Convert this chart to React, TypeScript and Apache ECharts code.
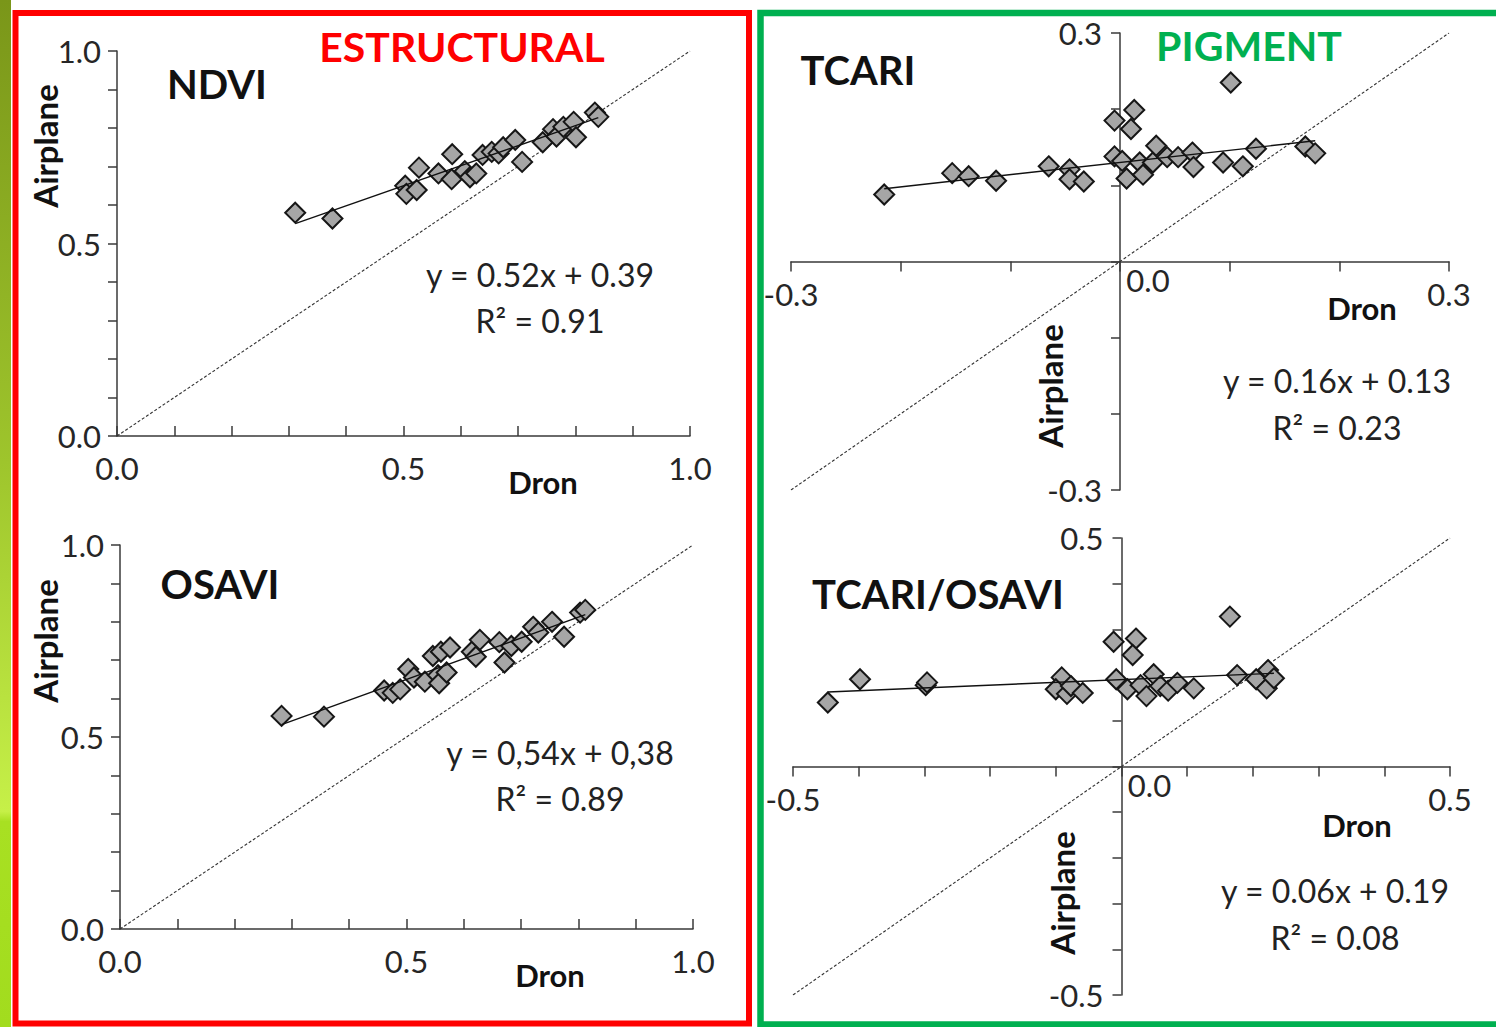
import React, { useEffect, useRef } from "react";
import * as echarts from "echarts";

// ---------- data ----------
const ndviDron = [0.311, 0.376, 0.503, 0.505, 0.523, 0.527, 0.561, 0.585, 0.584, 0.607, 0.616, 0.627, 0.638, 0.654, 0.666, 0.674, 0.695, 0.707, 0.743, 0.761, 0.767, 0.779, 0.797, 0.801, 0.834, 0.840];
const ndviAirplane = [0.580, 0.565, 0.650, 0.629, 0.639, 0.697, 0.682, 0.732, 0.667, 0.688, 0.672, 0.682, 0.730, 0.738, 0.734, 0.750, 0.769, 0.712, 0.763, 0.797, 0.778, 0.803, 0.816, 0.776, 0.840, 0.829];

const osaviDron = [0.282, 0.356, 0.461, 0.476, 0.489, 0.503, 0.513, 0.532, 0.546, 0.560, 0.576, 0.555, 0.557, 0.570, 0.614, 0.628, 0.621, 0.662, 0.671, 0.683, 0.701, 0.721, 0.730, 0.754, 0.775, 0.803, 0.812];
const osaviAirplane = [0.555, 0.553, 0.621, 0.615, 0.624, 0.677, 0.655, 0.644, 0.711, 0.722, 0.733, 0.661, 0.640, 0.668, 0.722, 0.753, 0.709, 0.747, 0.694, 0.737, 0.748, 0.787, 0.772, 0.800, 0.761, 0.824, 0.831];

const tcariDron = [-0.215, -0.153, -0.138, -0.113, -0.065, -0.046, -0.046, -0.033, -0.005, 0.013, 0.010, -0.005, 0.002, 0.006, 0.018, 0.021, 0.030, 0.033, 0.043, 0.053, 0.066, 0.067, 0.094, 0.112, 0.124, 0.101, 0.169, 0.178];
const tcariAirplane = [0.088, 0.116, 0.112, 0.106, 0.125, 0.121, 0.108, 0.105, 0.185, 0.199, 0.174, 0.138, 0.132, 0.109, 0.130, 0.114, 0.130, 0.152, 0.137, 0.137, 0.143, 0.124, 0.130, 0.125, 0.148, 0.235, 0.151, 0.142];

const tcOsDron = [-0.447, -0.398, -0.298, -0.296, -0.091, -0.100, -0.083, -0.077, -0.059, -0.012, 0.022, 0.017, -0.008, 0.009, 0.029, 0.038, 0.049, 0.059, 0.071, 0.085, 0.110, 0.165, 0.176, 0.205, 0.223, 0.221, 0.232];
const tcOsAirplane = [0.140, 0.191, 0.178, 0.184, 0.195, 0.169, 0.159, 0.176, 0.161, 0.273, 0.280, 0.244, 0.191, 0.169, 0.178, 0.154, 0.202, 0.176, 0.166, 0.183, 0.171, 0.328, 0.200, 0.191, 0.211, 0.171, 0.193];

const panelTitles = ["NDVI", "OSAVI", "TCARI", "TCARI/OSAVI"];
const fitSlopes = [0.52, 0.54, 0.16, 0.06];
const fitIntercepts = [0.39, 0.38, 0.13, 0.19];
const equationLabels = ["y = 0.52x + 0.39", "y = 0,54x + 0,38", "y = 0.16x + 0.13", "y = 0.06x + 0.19"];
const r2Labels = ["R² = 0.91", "R² = 0.89", "R² = 0.23", "R² = 0.08"];
const axisMins = [0, 0, -0.3, -0.5];
const axisMaxs = [1, 1, 0.3, 0.5];
const sectionHeaders = ["ESTRUCTURAL", "PIGMENT"];
const xAxisTitle = "Dron";
const yAxisTitle = "Airplane";

const panelDron = [ndviDron, osaviDron, tcariDron, tcOsDron];
const panelAirplane = [ndviAirplane, osaviAirplane, tcariAirplane, tcOsAirplane];

// ---------- layout ----------
const grids = [
  { left: 117, top: 51, width: 573, height: 385 },
  { left: 120, top: 545, width: 573, height: 384 },
  { left: 791, top: 33, width: 658, height: 457 },
  { left: 793, top: 538, width: 657, height: 457 },
];
const titlePos = [[217, 84], [220, 584], [858, 70], [938, 594]];
const dronPos = [[543, 482], [550, 975], [1362, 308], [1357, 825]];
const airplanePos = [[45, 146], [45, 641], [1050, 386], [1062, 893]];
const eqPos = [[540, 274], [560, 752], [1337, 380], [1335, 890]];
const r2Pos = [[540, 320], [560, 798], [1337, 427], [1335, 937]];

const FONT = "Lato, 'Open Sans', sans-serif";
const near = (a: number, b: number) => Math.abs(a - b) < 1e-6;

export default function App() {
  const ref = useRef<HTMLDivElement>(null);
  useEffect(() => {
    if (!ref.current) return;
    const chart = echarts.init(ref.current, undefined, { renderer: "svg" });
    const axisLineStyle = { color: "#3a3a3a", width: 1.5 };
    const labelBase = { fontFamily: FONT, fontSize: 31, color: "#262626" };

    const xAxes: any[] = [];
    const yAxes: any[] = [];
    const series: any[] = [];

    for (let i = 0; i < 4; i++) {
      const mn = axisMins[i];
      const mx = axisMaxs[i];
      const quad = i >= 2;
      const g = grids[i];
      // for the centred panels, move the axes onto the zero lines
      const xOffset = quad ? -(g.height * (0 - mn)) / (mx - mn) : 0;
      const yOffset = quad ? -(g.width * (0 - mn)) / (mx - mn) : 0;
      xAxes.push({
        gridIndex: i,
        type: "value",
        min: mn,
        max: mx,
        interval: 0.1,
        position: "bottom",
        offset: xOffset,
        axisLine: { show: true, onZero: false, lineStyle: axisLineStyle },
        axisTick: { show: true, inside: !quad, length: 10, lineStyle: axisLineStyle },
        splitLine: { show: false },
        axisLabel: quad
          ? {
              ...labelBase,
              margin: 3,
              showMinLabel: true,
              showMaxLabel: true,
              formatter: (v: number) => {
                if (near(v, 0)) return "{z|0.0}";
                if (near(v, mn) || near(v, mx)) return "{e|" + v.toFixed(1) + "}";
                return "";
              },
              rich: {
                z: { ...labelBase, padding: [0, 0, 0, 56] },
                e: { ...labelBase, padding: [14, 0, 0, 0] },
              },
            }
          : {
              ...labelBase,
              margin: 16,
              showMinLabel: true,
              showMaxLabel: true,
              formatter: (v: number) => (near(v * 2, Math.round(v * 2)) ? v.toFixed(1) : ""),
            },
      });
      yAxes.push({
        gridIndex: i,
        type: "value",
        min: mn,
        max: mx,
        interval: 0.1,
        position: "left",
        offset: yOffset,
        axisLine: { show: true, onZero: false, lineStyle: axisLineStyle },
        axisTick: { show: true, inside: false, length: 9, lineStyle: axisLineStyle },
        splitLine: { show: false },
        axisLabel: {
          ...labelBase,
          margin: quad ? 18 : 16,
          showMinLabel: true,
          showMaxLabel: true,
          formatter: quad
            ? (v: number) => (near(v, mn) || near(v, mx) ? v.toFixed(1) : "")
            : (v: number) => (near(v * 2, Math.round(v * 2)) ? v.toFixed(1) : ""),
        },
      });

      const xs = panelDron[i];
      const ys = panelAirplane[i];
      const pts = xs.map((x, k) => [x, ys[k]]);
      const xLo = Math.min(...xs);
      const xHi = Math.max(...xs);
      series.push({
        type: "line",
        xAxisIndex: i,
        yAxisIndex: i,
        data: [[mn, mn], [mx, mx]],
        symbol: "none",
        silent: true,
        lineStyle: { color: "#333", width: 1.1, type: [3, 2] },
        z: 1,
      });
      series.push({
        type: "scatter",
        xAxisIndex: i,
        yAxisIndex: i,
        data: pts,
        symbol: "diamond",
        symbolSize: 20,
        itemStyle: { color: "#a6a6a6", borderColor: "#161616", borderWidth: 2, opacity: 1 },
        z: 2,
      });
      series.push({
        type: "line",
        xAxisIndex: i,
        yAxisIndex: i,
        data: [
          [xLo, fitSlopes[i] * xLo + fitIntercepts[i]],
          [xHi, fitSlopes[i] * xHi + fitIntercepts[i]],
        ],
        symbol: "none",
        silent: true,
        lineStyle: { color: "#111", width: 1.4 },
        z: 3,
      });
    }

    const graphics: any[] = [
      {
        type: "rect",
        shape: { x: 0, y: 0, width: 11, height: 1027 },
        style: {
          fill: new echarts.graphic.LinearGradient(0, 0, 0, 1, [
            { offset: 0, color: "#7a9619" },
            { offset: 0.45, color: "#9ec52c" },
            { offset: 0.79, color: "#c6f048" },
            { offset: 0.8, color: "#a8e022" },
            { offset: 1, color: "#a2dc1e" },
          ]),
        },
        z: 20,
      },
      {
        type: "rect",
        shape: { x: 15.5, y: 13, width: 733.5, height: 1010.5 },
        style: { fill: "none", stroke: "#ff0000", lineWidth: 6 },
        z: 20,
      },
      {
        type: "rect",
        shape: { x: 760.5, y: 13, width: 760, height: 1011.5 },
        style: { fill: "none", stroke: "#00b050", lineWidth: 6.5 },
        z: 20,
      },
      {
        type: "text",
        x: 462,
        y: 46,
        style: { text: sectionHeaders[0], fill: "#ff0000", font: `bold 41px ${FONT}`, align: "center", verticalAlign: "middle" },
        z: 20,
      },
      {
        type: "text",
        x: 1249,
        y: 45,
        style: { text: sectionHeaders[1], fill: "#00b050", font: `bold 41px ${FONT}`, align: "center", verticalAlign: "middle" },
        z: 20,
      },
    ];
    for (let i = 0; i < 4; i++) {
      graphics.push({
        type: "text",
        x: titlePos[i][0],
        y: titlePos[i][1],
        style: { text: panelTitles[i], fill: "#111", font: `bold 40px ${FONT}`, align: "center", verticalAlign: "middle" },
        z: 20,
      });
      graphics.push({
        type: "text",
        x: dronPos[i][0],
        y: dronPos[i][1],
        style: { text: xAxisTitle, fill: "#111", font: `bold 31px ${FONT}`, align: "center", verticalAlign: "middle" },
        z: 20,
      });
      graphics.push({
        type: "text",
        x: airplanePos[i][0],
        y: airplanePos[i][1],
        rotation: Math.PI / 2,
        style: { text: yAxisTitle, fill: "#111", font: `bold 33px ${FONT}`, align: "center", verticalAlign: "middle" },
        z: 20,
      });
      graphics.push({
        type: "text",
        x: eqPos[i][0],
        y: eqPos[i][1],
        style: { text: equationLabels[i], fill: "#222", font: `32px ${FONT}`, align: "center", verticalAlign: "middle" },
        z: 20,
      });
      graphics.push({
        type: "text",
        x: r2Pos[i][0],
        y: r2Pos[i][1],
        style: { text: r2Labels[i], fill: "#222", font: `32px ${FONT}`, align: "center", verticalAlign: "middle" },
        z: 20,
      });
    }

    chart.setOption({
      animation: false,
      backgroundColor: "#ffffff",
      grid: grids.map((g) => ({ ...g, containLabel: false })),
      xAxis: xAxes,
      yAxis: yAxes,
      series,
      graphic: graphics,
    });
    return () => chart.dispose();
  }, []);

  return (
    <div
      ref={ref}
      style={{ position: "fixed", left: 0, top: 0, width: 1496, height: 1027, background: "#fff" }}
    />
  );
}
